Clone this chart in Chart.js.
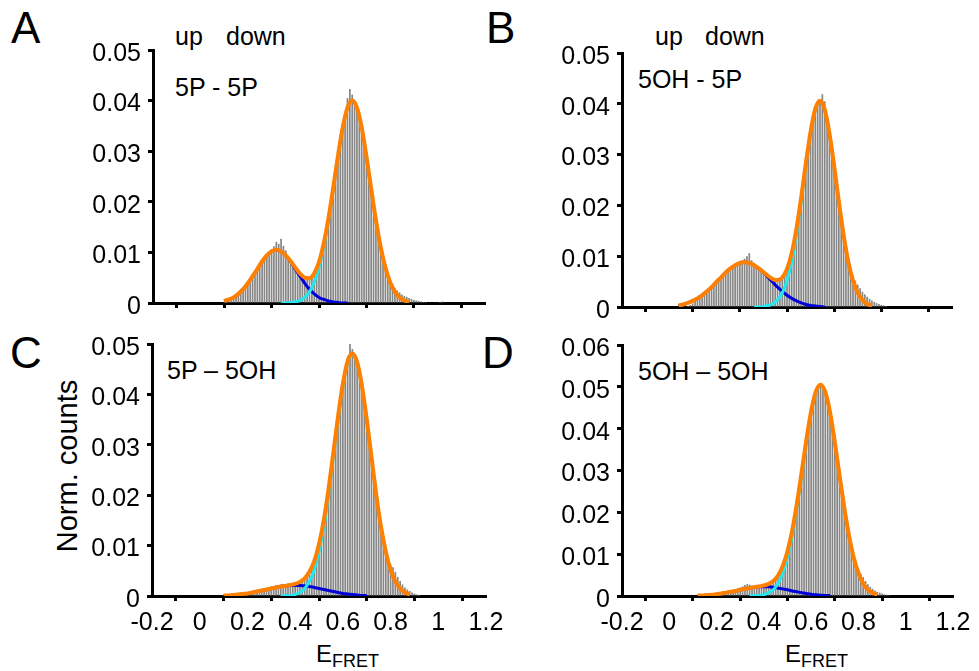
<!DOCTYPE html>
<html><head><meta charset="utf-8">
<script src="https://cdn.jsdelivr.net/npm/chart.js@4.4.1/dist/chart.umd.min.js"></script>
<style>
html,body{margin:0;padding:0;background:#fff;width:979px;height:671px;overflow:hidden;}
body{position:relative;font-family:'Liberation Sans',Arial,sans-serif;color:#000;}
.panel{position:absolute;}
.t{position:absolute;white-space:nowrap;line-height:1;}
</style></head><body>
<div class="t" style="left:11px;top:6px;font-size:44px;">A</div>
<div class="t" style="left:486px;top:6px;font-size:44px;">B</div>
<div class="t" style="left:10px;top:331px;font-size:44px;">C</div>
<div class="t" style="left:482px;top:331px;font-size:44px;">D</div>
<div class="t" style="left:175px;top:24px;font-size:25px;">up</div>
<div class="t" style="left:226px;top:24px;font-size:25px;">down</div>
<div class="t" style="left:655px;top:24px;font-size:25px;">up</div>
<div class="t" style="left:705px;top:24px;font-size:25px;">down</div>
<div class="t" style="left:175px;top:75px;font-size:25px;">5P - 5P</div>
<div class="t" style="left:638px;top:67px;font-size:25px;">5OH - 5P</div>
<div class="t" style="left:167px;top:358px;font-size:25px;">5P – 5OH</div>
<div class="t" style="left:638px;top:359px;font-size:25px;">5OH – 5OH</div>
<div class="t" style="left:67px;top:466px;font-size:29px;transform:translate(-50%,-50%) rotate(-90deg);">Norm. counts</div>
<div class="t" style="left:316px;top:642px;font-size:24px;">E<span style="font-size:18px;vertical-align:-5px;">FRET</span></div>
<div class="t" style="left:785px;top:642px;font-size:24px;">E<span style="font-size:18px;vertical-align:-5px;">FRET</span></div>

<script>
// ---- data ----
const xTicks = [-0.2, 0, 0.2, 0.4, 0.6, 0.8, 1.0, 1.2];

const histX = [
0.08,0.09,0.10,0.11,0.12,0.13,0.14,0.15,0.16,0.17,
0.18,0.19,0.20,0.21,0.22,0.23,0.24,0.25,0.26,0.27,
0.28,0.29,0.30,0.31,0.32,0.33,0.34,0.35,0.36,0.37,
0.38,0.39,0.40,0.41,0.42,0.43,0.44,0.45,0.46,0.47,
0.48,0.49,0.50,0.51,0.52,0.53,0.54,0.55,0.56,0.57,
0.58,0.59,0.60,0.61,0.62,0.63,0.64,0.65,0.66,0.67,
0.68,0.69,0.70,0.71,0.72,0.73,0.74,0.75,0.76,0.77,
0.78,0.79,0.80,0.81,0.82,0.83,0.84,0.85,0.86,0.87,
0.88,0.89,0.90,0.91,0.92,0.93,0.94,0.95,0.96,0.97,
0.98,0.99,1.00,1.01,1.02,1.03];

const histA = [
0,0,0.0003,0.0005,0.0008,0.0010,0.0013,0.0017,0.0022,0.0028,
0.0031,0.0037,0.0042,0.0046,0.0052,0.0058,0.0066,0.0071,0.0079,0.0086,
0.0093,0.0098,0.0106,0.0112,0.0121,0.0117,0.0127,0.0113,0.0104,0.0092,
0.0084,0.0076,0.0070,0.0063,0.0057,0.0052,0.0048,0.0046,0.0049,0.0052,
0.0060,0.0069,0.0081,0.0097,0.0116,0.0140,0.0166,0.0195,0.0226,0.0262,
0.0294,0.0322,0.0350,0.0372,0.0405,0.0423,0.0412,0.0398,0.0384,0.0362,
0.0344,0.0318,0.0290,0.0259,0.0228,0.0196,0.0166,0.0138,0.0112,0.0091,
0.0073,0.0058,0.0046,0.0037,0.0030,0.0025,0.0021,0.0017,0.0014,0.0012,
0.0010,0.0008,0.0006,0.0005,0.0004,0.0003,0.0002,0.0002,0.0001,0,
0,0,0,0.0002,0.0003,0];

const histB = [
0.0002,0.0004,0.0007,0.0012,0.0019,0.0021,0.0018,0.0024,0.0027,0.0032,
0.0036,0.0040,0.0045,0.0050,0.0054,0.0060,0.0064,0.0070,0.0072,0.0079,
0.0081,0.0086,0.0088,0.0092,0.0095,0.0100,0.0106,0.0092,0.0087,0.0080,
0.0076,0.0071,0.0068,0.0064,0.0060,0.0056,0.0053,0.0051,0.0050,0.0053,
0.0058,0.0065,0.0074,0.0088,0.0104,0.0126,0.0151,0.0181,0.0212,0.0246,
0.0281,0.0314,0.0343,0.0368,0.0387,0.0401,0.0408,0.0419,0.0405,0.0371,
0.0343,0.0312,0.0278,0.0243,0.0208,0.0175,0.0144,0.0116,0.0092,0.0074,
0.0062,0.0052,0.0044,0.0037,0.0030,0.0025,0.0020,0.0016,0.0013,0.0010,
0.0008,0.0006,0.0004,0.0003,0.0002,0.0001,0,0,0,0,
0,0,0,0,0,0];

const histC = [
0,0,0,0,0.0001,0.0002,0.0003,0.0003,0.0004,0.0004,
0.0005,0.0005,0.0006,0.0007,0.0008,0.0009,0.0010,0.0011,0.0013,0.0014,
0.0016,0.0017,0.0019,0.0020,0.0021,0.0022,0.0023,0.0024,0.0024,0.0025,
0.0025,0.0026,0.0027,0.0028,0.0030,0.0033,0.0037,0.0042,0.0049,0.0058,
0.0070,0.0085,0.0103,0.0124,0.0149,0.0178,0.0210,0.0245,0.0282,0.0319,
0.0356,0.0391,0.0422,0.0448,0.0475,0.0501,0.0490,0.0478,0.0462,0.0443,
0.0418,0.0386,0.0352,0.0314,0.0277,0.0240,0.0204,0.0170,0.0140,0.0114,
0.0093,0.0076,0.0063,0.0057,0.0048,0.0038,0.0030,0.0023,0.0017,0.0013,
0.0010,0.0007,0.0005,0.0003,0.0002,0.0001,0,0,0,0,
0,0,0,0,0,0];

const histD = [
0,0,0,0,0,0,0.0001,0.0002,0.0002,0.0003,
0.0003,0.0004,0.0005,0.0006,0.0007,0.0008,0.0009,0.0011,0.0012,0.0014,
0.0016,0.0018,0.0020,0.0023,0.0026,0.0029,0.0027,0.0025,0.0024,0.0023,
0.0023,0.0022,0.0022,0.0023,0.0024,0.0027,0.0032,0.0038,0.0047,0.0058,
0.0071,0.0087,0.0105,0.0128,0.0154,0.0185,0.0219,0.0256,0.0295,0.0334,
0.0372,0.0407,0.0438,0.0466,0.0486,0.0499,0.0504,0.0499,0.0485,0.0464,
0.0436,0.0404,0.0367,0.0328,0.0288,0.0249,0.0211,0.0176,0.0145,0.0117,
0.0094,0.0076,0.0063,0.0053,0.0045,0.0036,0.0028,0.0022,0.0017,0.0013,
0.0010,0.0008,0.0006,0.0004,0.0003,0.0002,0.0001,0,0,0,
0,0,0,0,0,0];

const fitX = [
0.00,0.02,0.04,0.06,0.08,0.10,0.12,0.14,0.16,0.18,
0.20,0.22,0.24,0.26,0.28,0.30,0.32,0.34,0.36,0.38,
0.40,0.42,0.44,0.46,0.48,0.50,0.52,0.54,0.56,0.58,
0.60,0.62,0.64,0.66,0.68,0.70,0.72,0.74,0.76,0.78,
0.80,0.82,0.84,0.86,0.88,0.90,0.92,0.94,0.96];

const fitTotalA = [
null,null,null,null,null,0.0004,0.0007,0.0011,0.0018,0.0027,
0.0039,0.0053,0.0067,0.0082,0.0094,0.0102,0.0105,0.0102,0.0094,0.0083,
0.0070,0.0058,0.0050,0.0049,0.0059,0.0081,0.0118,0.0168,0.0228,0.0291,
0.0347,0.0386,0.0400,0.0386,0.0347,0.0290,0.0226,0.0164,0.0111,0.0070,
0.0041,0.0022,0.0011,0.0005,0.0002,null,null,null,null];
const fitLowA = [
null,null,null,null,null,0.0004,0.0007,0.0011,0.0018,0.0027,
0.0039,0.0053,0.0067,0.0082,0.0094,0.0102,0.0105,0.0102,0.0094,0.0082,
0.0067,0.0053,0.0039,0.0027,0.0018,0.0011,0.0007,0.0004,0.0002,0.0001,
0.0000,0.0000,null,null,null,null,null,null,null,null,
null,null,null,null,null,null,null,null,null];
const fitHighA = [
null,null,null,null,null,null,null,null,null,null,
null,null,null,null,null,null,null,0.0000,0.0000,0.0001,
0.0002,0.0005,0.0011,0.0022,0.0041,0.0070,0.0111,0.0164,0.0226,0.0290,
0.0347,0.0386,0.0400,0.0386,0.0347,0.0290,0.0226,0.0164,0.0111,0.0070,
0.0041,0.0022,0.0011,0.0005,0.0002,null,null,null,null];

const fitTotalB = [
null,null,0.0003,0.0005,0.0008,0.0012,0.0017,0.0023,0.0031,0.0039,
0.0049,0.0058,0.0068,0.0076,0.0082,0.0087,0.0088,0.0087,0.0082,0.0076,
0.0069,0.0061,0.0055,0.0053,0.0058,0.0075,0.0106,0.0154,0.0215,0.0283,
0.0345,0.0390,0.0406,0.0389,0.0342,0.0278,0.0207,0.0142,0.0089,0.0052,
0.0028,0.0014,0.0006,0.0003,null,null,null,null,null];
const fitLowB = [
null,null,0.0003,0.0005,0.0008,0.0012,0.0017,0.0023,0.0031,0.0039,
0.0049,0.0058,0.0068,0.0076,0.0082,0.0087,0.0088,0.0087,0.0082,0.0076,
0.0068,0.0058,0.0049,0.0039,0.0031,0.0023,0.0017,0.0012,0.0008,0.0005,
0.0003,0.0002,0.0001,0.0000,null,null,null,null,null,null,
null,null,null,null,null,null,null,null,null];
const fitHighB = [
null,null,null,null,null,null,null,null,null,null,
null,null,null,null,null,null,null,null,0.0000,0.0000,
0.0001,0.0003,0.0006,0.0014,0.0028,0.0052,0.0089,0.0142,0.0207,0.0278,
0.0342,0.0388,0.0405,0.0388,0.0342,0.0278,0.0207,0.0142,0.0089,0.0052,
0.0028,0.0014,0.0006,0.0003,null,null,null,null,null];

const fitTotalC = [
null,null,null,null,null,0.0001,0.0001,0.0002,0.0003,0.0004,
0.0005,0.0007,0.0009,0.0011,0.0013,0.0015,0.0017,0.0019,0.0020,0.0022,
0.0024,0.0028,0.0035,0.0048,0.0069,0.0103,0.0150,0.0212,0.0284,0.0357,
0.0421,0.0466,0.0481,0.0464,0.0417,0.0351,0.0276,0.0201,0.0137,0.0088,
0.0052,0.0029,0.0015,0.0007,0.0003,null,null,null,null];
const fitLowC = [
null,null,null,null,null,0.0001,0.0001,0.0002,0.0003,0.0004,
0.0005,0.0007,0.0009,0.0011,0.0013,0.0015,0.0017,0.0019,0.0020,0.0021,
0.0021,0.0021,0.0020,0.0019,0.0017,0.0015,0.0013,0.0011,0.0009,0.0007,
0.0005,0.0004,0.0003,0.0002,0.0001,0.0001,null,null,null,null,
null,null,null,null,null,null,null,null,null];
const fitHighC = [
null,null,null,null,null,null,null,null,null,null,
null,null,null,null,null,null,null,0.0000,0.0001,0.0001,
0.0003,0.0007,0.0015,0.0029,0.0052,0.0088,0.0137,0.0201,0.0275,0.0350,
0.0416,0.0462,0.0478,0.0462,0.0416,0.0350,0.0275,0.0201,0.0137,0.0088,
0.0052,0.0029,0.0015,0.0007,0.0003,null,null,null,null];

const fitTotalD = [
null,null,null,null,null,null,0.0001,0.0001,0.0002,0.0003,
0.0004,0.0006,0.0008,0.0010,0.0012,0.0015,0.0017,0.0019,0.0021,0.0023,
0.0025,0.0029,0.0036,0.0049,0.0072,0.0107,0.0157,0.0222,0.0297,0.0374,
0.0442,0.0489,0.0505,0.0487,0.0439,0.0368,0.0289,0.0212,0.0145,0.0092,
0.0055,0.0030,0.0015,0.0008,0.0003,null,null,null,null];
const fitLowD = [
null,null,null,null,null,null,0.0001,0.0001,0.0002,0.0003,
0.0004,0.0006,0.0008,0.0010,0.0012,0.0015,0.0017,0.0019,0.0021,0.0022,
0.0022,0.0022,0.0021,0.0019,0.0017,0.0015,0.0012,0.0010,0.0008,0.0006,
0.0004,0.0003,0.0002,0.0001,0.0001,null,null,null,null,null,
null,null,null,null,null,null,null,null,null];
const fitHighD = [
null,null,null,null,null,null,null,null,null,null,
null,null,null,null,null,null,null,0.0000,0.0001,0.0001,
0.0003,0.0008,0.0015,0.0030,0.0055,0.0092,0.0145,0.0212,0.0289,0.0368,
0.0438,0.0486,0.0503,0.0486,0.0438,0.0368,0.0289,0.0212,0.0145,0.0092,
0.0055,0.0030,0.0015,0.0008,0.0003,null,null,null,null];

const yMaxA = 0.05, yMaxB = 0.05, yMaxC = 0.05, yMaxD = 0.06;

// ---- layout ----
const YW = 80, PT = 20, PR = 28, XH = 50;
const FONT = "'Liberation Sans', Arial, sans-serif";

function pts(xs, ys){ return xs.map((x,i)=>({x:x, y:ys[i]})); }

function makePanel(cfg){
  const div = document.createElement('div');
  div.className = 'panel';
  const w = YW + (cfg.right - cfg.left) + PR;
  const h = PT + (cfg.bottom - cfg.top) + XH;
  div.style.left = (cfg.left - YW) + 'px';
  div.style.top = (cfg.top - PT) + 'px';
  div.style.width = w + 'px';
  div.style.height = h + 'px';
  const cv = document.createElement('canvas');
  div.appendChild(cv);
  document.body.appendChild(div);
  const axisCommon = {
    grid: {display:true, drawOnChartArea:false, drawTicks:true, tickLength:5, tickWidth:3, tickColor:'#000'},
    border: {display:true, color:'#000', width:3}
  };
  new Chart(cv, {
    type: 'bar',
    data: {
      datasets: [
        {type:'line', data: pts(fitX, cfg.total), borderColor:'#ff8000', borderWidth:4, pointRadius:0, fill:false, cubicInterpolationMode:'monotone', spanGaps:false, order:1},
        {type:'line', data: pts(fitX, cfg.high), borderColor:'#20e8f0', borderWidth:3, pointRadius:0, fill:false, cubicInterpolationMode:'monotone', spanGaps:false, order:2},
        {type:'line', data: pts(fitX, cfg.low), borderColor:'#0000d8', borderWidth:3, pointRadius:0, fill:false, cubicInterpolationMode:'monotone', spanGaps:false, order:3},
        {type:'bar', data: pts(histX, cfg.hist), backgroundColor:'#868686', borderWidth:0, barPercentage:0.72, categoryPercentage:1.0, order:10}
      ]
    },
    options: {
      responsive: true, maintainAspectRatio: false, animation: false, events: [],
      layout: {padding: {left:0, right:PR, top:PT, bottom:0}},
      plugins: {legend:{display:false}, tooltip:{enabled:false}},
      scales: {
        x: Object.assign({
          type:'linear', min: xTicks[0], max: xTicks[xTicks.length-1], offset:false,
          afterFit: s => { s.height = XH; },
          afterBuildTicks: s => { s.ticks = xTicks.map(v => ({value:v})); },
          ticks: {display: cfg.showX, color:'#000', font:{family:FONT, size:25}, padding:7, maxRotation:0, autoSkip:false,
            callback: v => { const r = Math.round(v*10)/10; return r === 0 ? '0' : String(r); }}
        }, axisCommon),
        y: Object.assign({
          min: 0, max: cfg.ymax,
          afterFit: s => { s.width = YW; },
          ticks: {stepSize:0.01, color:'#000', font:{family:FONT, size:25}, padding:7, labelOffset:4,
            callback: v => { const r = Math.round(v*100)/100; return r === 0 ? '0' : r.toFixed(2); }}
        }, axisCommon)
      }
    }
  });
}

makePanel({hist:histA, total:fitTotalA, low:fitLowA, high:fitHighA, ymax:yMaxA, left:153, right:485, top:48, bottom:303, showX:false});
makePanel({hist:histB, total:fitTotalB, low:fitLowB, high:fitHighB, ymax:yMaxB, left:622, right:952, top:51, bottom:307, showX:false});
makePanel({hist:histC, total:fitTotalC, low:fitLowC, high:fitHighC, ymax:yMaxC, left:152, right:486, top:342, bottom:596, showX:true});
makePanel({hist:histD, total:fitTotalD, low:fitLowD, high:fitHighD, ymax:yMaxD, left:622, right:953, top:343, bottom:596, showX:true});
</script>
</body></html>
